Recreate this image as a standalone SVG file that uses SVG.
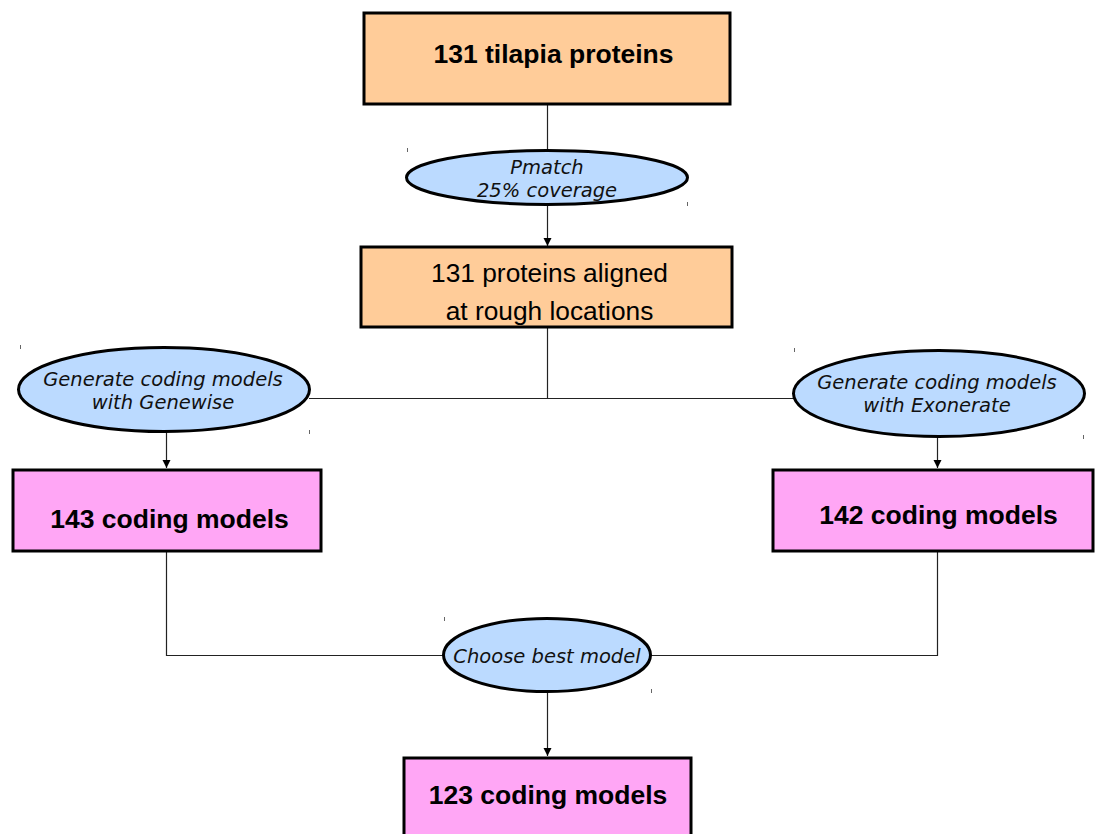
<svg xmlns="http://www.w3.org/2000/svg" width="1096" height="834" viewBox="0 0 1096 834">
  <style>
    .box { stroke: #000; stroke-width: 3; }
    .peach { fill: #ffcc99; }
    .pink { fill: #ffa6f5; }
    .oval { fill: #bbdaff; stroke: #000; stroke-width: 3; }
    .wire { fill: none; stroke: #222; stroke-width: 1.2; }
    .tick { stroke: #666; stroke-width: 1; }
    .bold { font-family: "Liberation Sans", Arial, sans-serif; font-weight: bold; font-size: 26.5px; fill: #000; text-anchor: middle; }
    .plain { font-family: "Liberation Sans", Arial, sans-serif; font-size: 26.3px; fill: #000; text-anchor: middle; }
    .step { font-family: "DejaVu Sans", sans-serif; font-style: italic; font-size: 19.5px; fill: #111; text-anchor: middle; }
  </style>
  <defs>
    <marker id="arrow" markerUnits="userSpaceOnUse" markerWidth="10" markerHeight="10" refX="8" refY="4" orient="auto">
      <path d="M0,0 L8,4 L0,8 Z" fill="#000"/>
    </marker>
  </defs>
  <rect width="1096" height="834" fill="#fff"/>

  <!-- connectors -->
  <g id="connectors">
    <line class="wire" x1="547.5" y1="104" x2="547.5" y2="150"/>
    <line class="wire" x1="547.5" y1="205" x2="547.5" y2="246" marker-end="url(#arrow)"/>
    <polyline class="wire" points="547.5,328 547.5,398.5"/>
    <line class="wire" x1="309" y1="398.5" x2="794" y2="398.5"/>
    <line class="wire" x1="166.5" y1="432" x2="166.5" y2="468" marker-end="url(#arrow)"/>
    <line class="wire" x1="937.5" y1="437" x2="937.5" y2="468" marker-end="url(#arrow)"/>
    <polyline class="wire" points="166.5,552 166.5,655.5 444,655.5"/>
    <polyline class="wire" points="937.5,552 937.5,655.5 651,655.5"/>
    <line class="wire" x1="547.5" y1="692" x2="547.5" y2="756" marker-end="url(#arrow)"/>
  </g>

  <g id="tilapia-proteins">
    <rect class="box peach" x="364" y="13" width="366" height="91"/>
    <text class="bold" x="553.5" y="63">131 tilapia proteins</text>
  </g>

  <g id="pmatch">
    <ellipse class="oval" cx="547" cy="177.5" rx="140.5" ry="27"/>
    <text class="step" x="547" y="174">Pmatch</text>
    <text class="step" x="547" y="197">25% coverage</text>
  </g>

  <g id="aligned-proteins">
    <rect class="box peach" x="361" y="247" width="371" height="80"/>
    <text class="plain" x="549.5" y="282">131 proteins aligned</text>
    <text class="plain" x="549.5" y="320">at rough locations</text>
  </g>

  <g id="genewise">
    <ellipse class="oval" cx="164" cy="389.5" rx="145.5" ry="42"/>
    <text class="step" x="163" y="386">Generate coding models</text>
    <text class="step" x="163" y="409">with Genewise</text>
  </g>

  <g id="exonerate">
    <ellipse class="oval" cx="939" cy="393.5" rx="145.5" ry="43"/>
    <text class="step" x="937" y="389">Generate coding models</text>
    <text class="step" x="937" y="412">with Exonerate</text>
  </g>

  <g id="genewise-models">
    <rect class="box pink" x="13" y="470" width="308" height="81"/>
    <text class="bold" x="169.5" y="528">143 coding models</text>
  </g>

  <g id="exonerate-models">
    <rect class="box pink" x="773" y="470" width="320" height="81"/>
    <text class="bold" x="938.5" y="524">142 coding models</text>
  </g>

  <g id="choose-best">
    <ellipse class="oval" cx="547" cy="655" rx="103.5" ry="36.5"/>
    <text class="step" x="547" y="663">Choose best model</text>
  </g>

  <g id="final-models">
    <rect class="box pink" x="404" y="758" width="287" height="90"/>
    <text class="bold" x="548" y="804">123 coding models</text>
  </g>

  <!-- small corner marks around the ovals -->
  <g id="marks">
    <line class="tick" x1="407.5" y1="148" x2="407.5" y2="152"/>
    <line class="tick" x1="687.5" y1="202" x2="687.5" y2="206"/>
    <line class="tick" x1="20.5" y1="345" x2="20.5" y2="349"/>
    <line class="tick" x1="309.5" y1="430" x2="309.5" y2="434"/>
    <line class="tick" x1="794.5" y1="348" x2="794.5" y2="352"/>
    <line class="tick" x1="1083.5" y1="435" x2="1083.5" y2="439"/>
    <line class="tick" x1="444.5" y1="617" x2="444.5" y2="621"/>
    <line class="tick" x1="651.5" y1="689" x2="651.5" y2="693"/>
  </g>
</svg>
